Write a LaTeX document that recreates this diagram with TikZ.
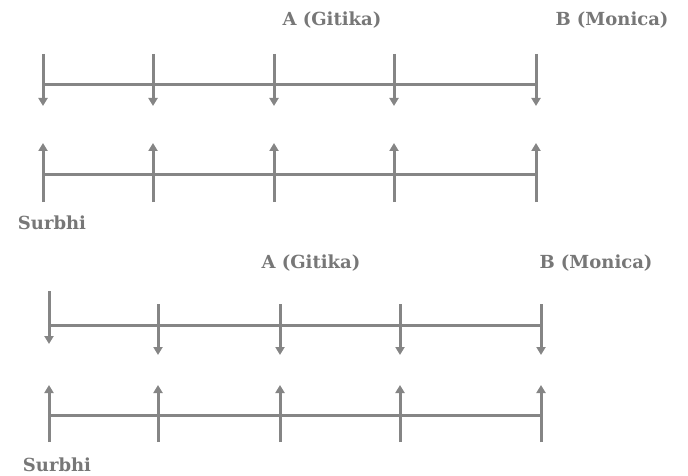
\documentclass[tikz,border=0pt]{standalone}
\usepackage{fontspec}
\setmainfont{DejaVu Serif}
\usetikzlibrary{arrows.meta}
\definecolor{linegray}{HTML}{858585}
\definecolor{textgray}{HTML}{777777}
\tikzset{
  x=1pt, y=-1pt,
  axis/.style={draw=linegray, line width=3pt},
  tick/.style={draw=linegray, line width=3pt, -{Triangle[width=9pt,length=8pt]}},
  lbl/.style={text=textgray, font=\bfseries\fontsize{18}{21}\selectfont, inner sep=0pt},
}
\begin{document}
\begin{tikzpicture}
\useasboundingbox (0,0) rectangle (688,476);

% ---------- first layout ----------
\node[lbl] (ga1) at (332,20) {A (Gitika)};
\node[lbl] (mb1) at (612,20) {B (Monica)};
\node[lbl] (su1) at (52,223) {Surbhi};

% upper line with downward arrows
\foreach \i/\x in {1/43,2/153,3/274,4/394,5/536}{
  \coordinate (dt\i) at (\x,54);
  \coordinate (dm\i) at (\x,85);
  \coordinate (db\i) at (\x,106);
  \draw[tick] (dt\i) -- (db\i);
}
\draw[axis] (dm1) -- (dm5);

% lower line with upward arrows
\foreach \i/\x in {1/43,2/153,3/274,4/394,5/536}{
  \coordinate (ub\i) at (\x,202);
  \coordinate (um\i) at (\x,174);
  \coordinate (ut\i) at (\x,143);
  \draw[tick] (ub\i) -- (ut\i);
}
\draw[axis] (um1) -- (um5);

% ---------- second layout ----------
\node[lbl] (ga2) at (311,263) {A (Gitika)};
\node[lbl] (mb2) at (596,263) {B (Monica)};
\node[lbl] (su2) at (57,465) {Surbhi};

% upper line: first arrow starts higher
\coordinate (et1) at (49,291);
\coordinate (em1) at (49,325);
\coordinate (eb1) at (49,344);
\draw[tick] (et1) -- (eb1);
\foreach \i/\x in {2/158,3/280,4/400,5/541}{
  \coordinate (et\i) at (\x,304);
  \coordinate (em\i) at (\x,325);
  \coordinate (eb\i) at (\x,355);
  \draw[tick] (et\i) -- (eb\i);
}
\draw[axis] (em1) -- (em5);

% lower line with upward arrows
\foreach \i/\x in {1/49,2/158,3/280,4/400,5/541}{
  \coordinate (vb\i) at (\x,442);
  \coordinate (vm\i) at (\x,415);
  \coordinate (vt\i) at (\x,385);
  \draw[tick] (vb\i) -- (vt\i);
}
\draw[axis] (vm1) -- (vm5);
\end{tikzpicture}
\end{document}
